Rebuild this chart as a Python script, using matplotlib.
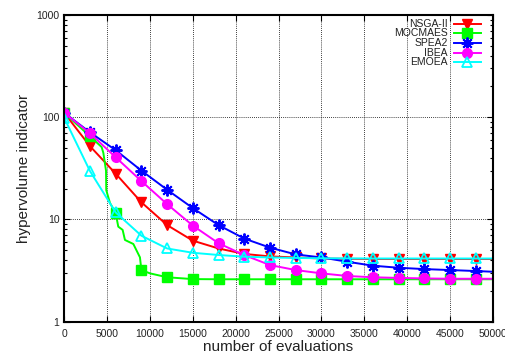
import matplotlib
matplotlib.use("Agg")
import matplotlib.pyplot as plt
from matplotlib.ticker import NullFormatter, LogLocator

plt.rcParams['font.family'] = ['Liberation Sans', 'DejaVu Sans']

evals = [0, 3000, 6000, 9000, 12000, 15000, 18000, 21000, 24000, 27000,
         30000, 33000, 36000, 39000, 42000, 45000, 48000]

nsga2 = [110, 52, 28, 14.7, 8.8, 6.2, 5.2, 4.6, 4.35, 4.25, 4.15, 4.12, 4.1, 4.1, 4.1, 4.1, 4.1]
spea2 = [110, 71, 47.5, 30, 19.5, 12.9, 8.8, 6.5, 5.3, 4.55, 4.25, 3.86, 3.53, 3.37, 3.27, 3.2, 3.13]
ibea = [110, 69.5, 40.5, 23.7, 14.1, 8.7, 5.85, 4.48, 3.58, 3.2, 2.97, 2.8, 2.72, 2.68, 2.65, 2.63, 2.63]
emoea = [98, 29.7, 11.7, 6.93, 5.2, 4.72, 4.49, 4.32, 4.25, 4.2, 4.17, 4.16, 4.15, 4.15, 4.15, 4.15, 4.15]
mocmaes = [110, 65, 11.5, 3.2, 2.72, 2.61, 2.6, 2.6, 2.6, 2.6, 2.6, 2.6, 2.6, 2.6, 2.6, 2.6, 2.6]

# end values at 50000 (line continues past the last marker)
end_x = 50000
nsga2_end, spea2_end, ibea_end, emoea_end = 4.1, 3.08, 2.63, 4.15

# MOCMAES line trace (jagged section)
mocmaes_line_x = [0, 3000, 4360, 4560, 4870, 4900, 5330, 6000, 6300, 6810, 7080, 8060, 8830, 9000,
                  10000, 12000, 15000, 18000, 21000, 24000, 27000, 30000, 33000, 36000, 39000,
                  42000, 45000, 48000, 50000]
mocmaes_line_y = [110, 65, 51, 44.7, 30, 19.3, 14.5, 11.5, 8.5, 7.9, 6.3, 5.75, 4.26, 3.2,
                  2.97, 2.72, 2.61, 2.6, 2.6, 2.6, 2.6, 2.6, 2.6, 2.6, 2.6,
                  2.6, 2.6, 2.6, 2.6]

labels = ['NSGA-II', 'MOCMAES', 'SPEA2', 'IBEA', 'EMOEA']

fig = plt.figure(figsize=(5.06, 3.56), dpi=100)
ax = fig.add_axes([0.127, 0.0963, 0.847, 0.862])

lw = 1.4
ms = 6.5
mk = list(range(len(evals)))
styles = [
    dict(color='#ff0000', lw=lw, marker='v', ms=ms),
    dict(color='#00ff00', lw=lw, marker='s', ms=ms),
    dict(color='#0000ff', lw=lw, marker=(8, 2, 0), ms=ms + 2, mew=1.4),
    dict(color='#ff00ff', lw=lw, marker='o', ms=ms + 0.5),
    dict(color='#00ffff', lw=lw, marker='^', ms=ms + 0.5, mfc='none', mew=1.3),
]

ax.plot(evals + [end_x], nsga2 + [nsga2_end], markevery=mk, **styles[0])
ax.plot(mocmaes_line_x, mocmaes_line_y, color='#00ff00', lw=lw)
ax.plot(evals, mocmaes, **dict(styles[1], lw=0))
ax.plot(evals + [end_x], spea2 + [spea2_end], markevery=mk, **styles[2])
ax.plot(evals + [end_x], ibea + [ibea_end], markevery=mk, **styles[3])
ax.plot(evals + [end_x], emoea + [emoea_end], markevery=mk, **styles[4])

# manual gnuplot-style legend: right-aligned text, sample line to the right
leg_rows = [0.971, 0.940, 0.908, 0.876, 0.845]
for lab, st, yy in zip(labels, styles, leg_rows):
    ax.text(0.895, yy, lab, transform=ax.transAxes, ha='right', va='center',
            fontsize=7.5, color='#222222')
    ax.plot([0.909, 0.972], [yy, yy], transform=ax.transAxes, clip_on=False,
            markevery=[], **st)
    ax.plot([0.9405], [yy], transform=ax.transAxes, clip_on=False,
            **dict(st, lw=0))

ax.set_yscale('log')
ax.set_xlim(0, 50000)
ax.set_ylim(1, 1000)
ax.set_xticks(range(0, 50001, 5000))
ax.set_xticklabels([str(v) for v in range(0, 50001, 5000)])
ax.set_yticks([1, 10, 100, 1000])
ax.set_yticklabels(['1', '10', '100', '1000'])
ax.yaxis.set_minor_locator(LogLocator(base=10, subs=range(2, 10)))
ax.yaxis.set_minor_formatter(NullFormatter())
ax.tick_params(which='both', direction='in', top=True, right=True, labelsize=7.5,
               colors='black', labelcolor='#222222')
ax.tick_params(which='major', length=4, width=0.8)
ax.tick_params(which='minor', length=2.5, width=0.8)
ax.tick_params(axis='x', pad=5)

ax.grid(True, which='major', color='black', linestyle=(0, (1, 1.5)), linewidth=0.6)
for s in ax.spines.values():
    s.set_linewidth(1.5)

ax.set_xlabel('number of evaluations', fontsize=11, color='#222222', labelpad=1)
ax.set_ylabel('hypervolume indicator', fontsize=11, color='#222222', labelpad=4)

fig.savefig('out.png', dpi=100)
